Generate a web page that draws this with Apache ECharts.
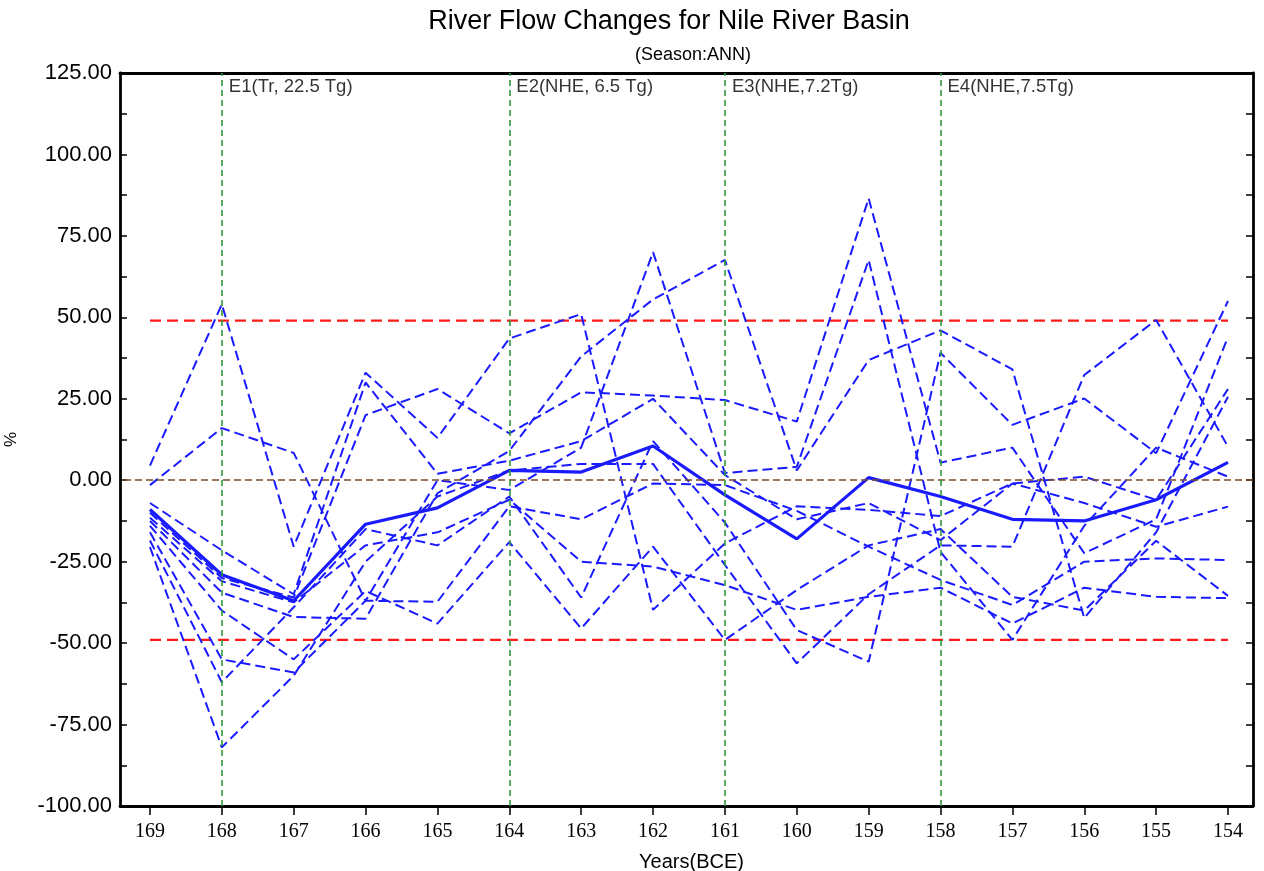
<!DOCTYPE html>
<html>
<head>
<meta charset="utf-8">
<script src="https://cdn.jsdelivr.net/npm/echarts@6/dist/echarts.min.js"></script>
<style>
html,body{margin:0;padding:0;background:#fff;}
#chart{width:1264px;height:871px;}
</style>
</head>
<body>
<div id="chart"></div>
<script>
// ---- data ----
const years = [169,168,167,166,165,164,163,162,161,160,159,158,157,156,155,154];
const meanFlow = [-9,-29,-37,-13.5,-8.5,3,2.5,10.5,-4.5,-18,0.8,-5,-12,-12.5,-6,5.5];
const member1  = [4.5,54,-20.4,33,13,43.5,51,-39.8,-19.4,-8,-9.1,-11,-1,1.1,-6,28];
const member2  = [-1.5,16,8.4,-37,-37.3,-8,-12,-1,-1.5,-9.4,-20.4,-30.6,-38.3,-25,-24,-24.5];
const member3  = [-7,-21.5,-35,30,2,6,12,25,1.6,-12,-7,-18.4,-1,-7,-14.3,-8.1];
const member4  = [-10,-30,-36,20,28,14.4,27,26,24.6,18,86.5,5.4,10,-22.4,-12,44];
const member5  = [-11.5,-31,-37.5,-20,-16,-6,-25,-26.5,-32.2,-39.8,-35.8,-33,-44,-33,-35.8,-36.2];
const member6  = [-12.5,-34.5,-42,-42.5,-4,9,38,55.5,67.6,3,36.9,46,34,-42.3,-16,25.6];
const member7  = [-14,-40,-55,-34,-44,-19,-45.5,-20.4,-49,-33.7,-20,-15,-35.8,-40,-18.6,-35.5];
const member8  = [-16,-55,-59,-37,0,-3,10,70,2.2,4.1,67.6,-22,-49,-14,10,1.1];
const member9  = [-18.5,-62,-39,-15,-20,-5,-36,12,-13,-46,-55.7,39.1,17,25.1,8.3,55];
const member10 = [-20.5,-82,-60,-25,-5,3,5,5,-26,-56.2,-35,-20,-20.4,32.3,49.2,10.3];
const members = [member1,member2,member3,member4,member5,member6,member7,member8,member9,member10];
const eventYears = [168,164,161,158];
const eventLabels = ['E1(Tr, 22.5 Tg)','E2(NHE, 6.5 Tg)','E3(NHE,7.2Tg)','E4(NHE,7.5Tg)'];
const thresholds = [49,-49];
const yearTicks = years.slice();

// ---- chart ----
const chart = echarts.init(document.getElementById('chart'), null, {renderer:'canvas'});
const pair = arr => years.map((y,i)=>[y,arr[i]]);
const blue = '#1a1aff';
const series = [];
members.forEach((m,i)=>{
  series.push({type:'line',name:'m'+(i+1),data:pair(m),symbol:'none',silent:true,
    lineStyle:{color:blue,width:2,type:[10,5]},z:3});
});
series.push({type:'line',name:'mean',data:pair(meanFlow),symbol:'none',silent:true,
  lineStyle:{color:blue,width:3.2},z:4});
thresholds.forEach(t=>{
  series.push({type:'line',data:[[years[0],t],[years[years.length-1],t]],symbol:'none',silent:true,
    lineStyle:{color:'#ff1a1a',width:2.4,type:[11,6]},z:2});
});
series.push({type:'line',data:[],silent:true,
  markLine:{silent:true,symbol:'none',label:{show:false},
    data:[{yAxis:0,lineStyle:{color:'#7a4a2a',width:1.6,type:[7,4]}}]
      .concat(eventYears.map(y=>({xAxis:y,lineStyle:{color:'#2e9a3a',width:1.6,type:[6,4]}})))
  }});
series.push({type:'scatter',symbolSize:0,silent:true,z:6,
  data:eventYears.map((y,i)=>({value:[y,125],name:eventLabels[i]})),
  label:{show:true,position:'right',distance:7,offset:[0,14],formatter:p=>p.name,
    color:'#000',fontSize:18.5,fontFamily:'Liberation Sans'}});

const axisLineStyle = {color:'#000',width:2.8};
chart.setOption({
  animation:false,
  backgroundColor:'#fff',
  title:[
    {text:'River Flow Changes for Nile River Basin',left:664,top:3,textAlign:'center',
      textStyle:{fontSize:27,fontWeight:'normal',fontFamily:'Liberation Sans',color:'#000'}},
    {text:'(Season:ANN)',left:688,top:41,textAlign:'center',
      textStyle:{fontSize:18,fontWeight:'normal',fontFamily:'Liberation Sans',color:'#000'}}
  ],
  grid:{left:120,right:11,top:73,bottom:65,containLabel:false,outerBoundsMode:'none'},
  xAxis:[
    {type:'value',inverse:true,min:153.652,max:169.417,position:'bottom',
      name:'Years(BCE)',nameLocation:'middle',nameGap:46,
      nameTextStyle:{fontSize:20,fontFamily:'Liberation Sans',color:'#000',padding:[0,0,0,10]},
      axisLine:{show:true,onZero:false,lineStyle:axisLineStyle},
      axisTick:{show:true,inside:false,length:9,customValues:yearTicks,lineStyle:{color:'#000',width:1.5}},
      axisLabel:{show:true,customValues:yearTicks,margin:16,fontSize:20,fontFamily:'Liberation Serif',color:'#000',
        formatter:v=>String(Math.round(v))},
      splitLine:{show:false}},
    {type:'value',inverse:true,min:153.652,max:169.417,position:'top',
      axisLine:{show:true,onZero:false,lineStyle:axisLineStyle},
      axisTick:{show:false},axisLabel:{show:false},splitLine:{show:false}}
  ],
  yAxis:[
    {type:'value',min:-100,max:125,interval:25,position:'left',
      name:'%',nameLocation:'middle',nameGap:100,nameRotate:90,
      nameTextStyle:{fontSize:17,fontFamily:'Liberation Sans',color:'#000'},
      axisLine:{show:true,onZero:false,lineStyle:axisLineStyle},
      axisTick:{show:true,inside:true,length:7,lineStyle:{color:'#000',width:1.5}},
      minorTick:{show:true,splitNumber:2,length:7,lineStyle:{color:'#000',width:1.5}},
      axisLabel:{margin:8,fontSize:22,fontFamily:'Liberation Sans',color:'#000',formatter:v=>v.toFixed(2)},
      splitLine:{show:false}},
    {type:'value',min:-100,max:125,interval:25,position:'right',
      axisLine:{show:true,onZero:false,lineStyle:axisLineStyle},
      axisTick:{show:true,inside:true,length:7,lineStyle:{color:'#000',width:1.5}},
      minorTick:{show:true,splitNumber:2,length:7,lineStyle:{color:'#000',width:1.5}},
      axisLabel:{show:false},splitLine:{show:false}}
  ],
  series:series
});
</script>
</body>
</html>
